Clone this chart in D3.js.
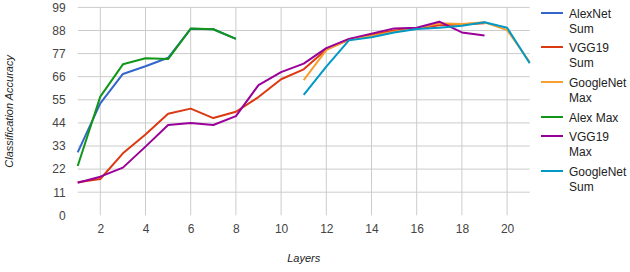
<!DOCTYPE html>
<html>
<head>
<meta charset="utf-8">
<script src="https://cdn.jsdelivr.net/npm/d3@7"></script>
<style>
  body { margin: 0; background: #fff; }
  text { font-family: "Liberation Sans", Arial, sans-serif; }
</style>
</head>
<body>
<div id="chart"></div>
<script>
/* DATA */
const seriesNames = ["AlexNet Sum", "VGG19 Sum", "GoogleNet Max", "Alex Max", "VGG19 Max", "GoogleNet Sum"];
const seriesColors = ["#3366cc", "#dc3912", "#f7a030", "#109618", "#990099", "#0099c6"];
const legendLines = [["AlexNet", "Sum"], ["VGG19", "Sum"], ["GoogleNet", "Max"], ["Alex Max"], ["VGG19", "Max"], ["GoogleNet", "Sum"]];

const alexLayers = [1, 2, 3, 4, 5, 6, 7, 8];
const vggLayers = [1, 2, 3, 4, 5, 6, 7, 8, 9, 10, 11, 12, 13, 14, 15, 16, 17, 18, 19];
const googleLayers = [11, 12, 13, 14, 15, 16, 17, 18, 19, 20, 21];

const alexSum = [30, 53.3, 67.3, 71, 75, 88.8, 88.6, 84];
const vggSum = [15.7, 17.3, 29.5, 38.5, 48.4, 50.8, 46.3, 49.3, 56.3, 64.8, 69.5, 79, 83.5, 86, 88, 89, 90.5, 91, 91.5];
const googleMax = [64.4, 78.7, 83.8, 85.4, 87.4, 89, 91.4, 91.1, 91.9, 88.2, 73];
const alexMax = [23.5, 56.5, 71.9, 74.8, 74.4, 88.9, 88.6, 84];
const vggMax = [15.5, 18.4, 22.7, 32.7, 43, 44, 43, 47.2, 62, 68.2, 72.2, 79.6, 84, 86.5, 89, 89.3, 92.2, 87.1, 85.6];
const googleSum = [57.3, 70.8, 83.3, 84.8, 87, 88.7, 89.3, 90.3, 91.9, 89.3, 72.4];

const xTicks = [2, 4, 6, 8, 10, 12, 14, 16, 18, 20];
const yTicks = [0, 11, 22, 33, 44, 55, 66, 77, 88, 99];

const seriesX = [alexLayers, vggLayers, googleLayers, alexLayers, vggLayers, googleLayers];
const seriesY = [alexSum, vggSum, googleMax, alexMax, vggMax, googleSum];

/* LAYOUT */
const width = 630, height = 272;
const margin = { top: 7.4, left: 77.7, right: 100.3, bottom: 56.7 };

const svg = d3.select("#chart").append("svg")
  .attr("width", width)
  .attr("height", height);

const xScale = d3.scaleLinear()
  .domain([1, 21])
  .range([margin.left, width - margin.right]);

const yScale = d3.scaleLinear()
  .domain([0, 99])
  .range([height - margin.bottom, margin.top]);

// gridlines
svg.append("g")
  .selectAll("line")
  .data(yTicks.filter(d => d > 0))
  .join("line")
  .attr("x1", xScale(1)).attr("x2", xScale(21))
  .attr("y1", d => yScale(d)).attr("y2", d => yScale(d))
  .attr("stroke", "#cccccc").attr("stroke-width", 1);

svg.append("g")
  .selectAll("line")
  .data(xTicks)
  .join("line")
  .attr("x1", d => xScale(d)).attr("x2", d => xScale(d))
  .attr("y1", yScale(99)).attr("y2", yScale(0))
  .attr("stroke", "#cccccc").attr("stroke-width", 1);

// axes (labels only)
const xAxis = svg.append("g")
  .attr("transform", `translate(0, ${yScale(0)})`)
  .call(d3.axisBottom(xScale).tickValues(xTicks).tickSize(0).tickPadding(9));
const yAxis = svg.append("g")
  .attr("transform", `translate(${margin.left - 12}, 0)`)
  .call(d3.axisLeft(yScale).tickValues(yTicks).tickSize(0).tickPadding(0));
[xAxis, yAxis].forEach(a => {
  a.select(".domain").remove();
  a.selectAll("text")
    .attr("font-size", 12)
    .attr("fill", "#444")
    .attr("font-family", "'Liberation Sans', Arial, sans-serif");
});

// axis titles
svg.append("text")
  .attr("x", xScale(11))
  .attr("y", 262)
  .attr("text-anchor", "middle")
  .attr("font-size", 11)
  .attr("font-style", "italic")
  .attr("fill", "#222")
  .text("Layers");

svg.append("text")
  .attr("transform", `translate(13, ${yScale(49.5)}) rotate(-90)`)
  .attr("text-anchor", "middle")
  .attr("font-size", 11)
  .attr("font-style", "italic")
  .attr("fill", "#222")
  .text("Classification Accuracy");

// lines
const line = d3.line()
  .x(d => xScale(d[0]))
  .y(d => yScale(d[1]));

seriesNames.forEach((name, i) => {
  svg.append("path")
    .datum(seriesX[i].map((x, j) => [x, seriesY[i][j]]))
    .attr("fill", "none")
    .attr("stroke", seriesColors[i])
    .attr("stroke-width", 2)
    .attr("stroke-linejoin", "round")
    .attr("d", line);
});

// legend
const legendY = [13, 47, 82, 117, 136, 171];
const legend = svg.append("g");
seriesNames.forEach((name, i) => {
  const g = legend.append("g").attr("transform", `translate(0, ${legendY[i]})`);
  g.append("line")
    .attr("x1", 541).attr("x2", 563)
    .attr("stroke", seriesColors[i]).attr("stroke-width", 2);
  legendLines[i].forEach((t, k) => {
    g.append("text")
      .attr("x", 569)
      .attr("y", 4.5 + k * 15.5)
      .attr("font-size", 12)
      .attr("fill", "#222")
      .text(t);
  });
});
</script>
</body>
</html>
